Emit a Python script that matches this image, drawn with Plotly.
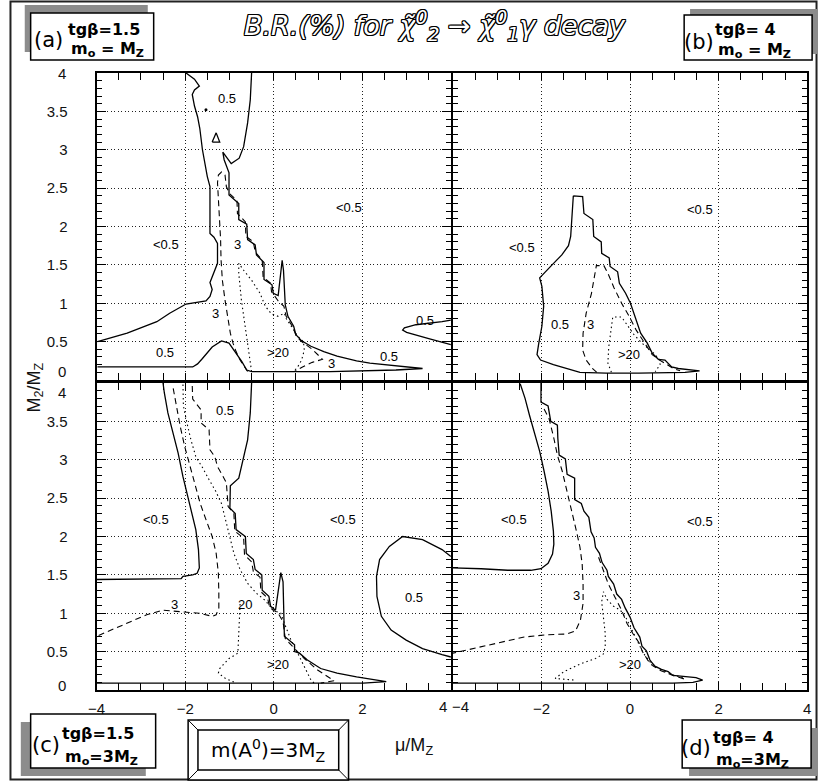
import plotly.graph_objects as go

# ---------------------------------------------------------------------------
# Contour lines of B.R.(%) in the (mu/M_Z, M_2/M_Z) plane.
# Levels: 0.5 % (solid), 3 % (dashed), 20 % (dotted)
# ---------------------------------------------------------------------------

# (a) tg(beta)=1.5, m0 = M_Z
a_br05_left_x = [-3.98, -3.31, -2.64, -2.35, -1.98, -1.53, -1.44, -1.39, -1.44, -1.35, -1.27, -1.27, -1.35,
                 -1.44, -1.44, -1.50, -1.61, -1.67, -1.72, -1.79, -1.84, -1.79, -1.68, -1.79, -1.98]
a_br05_left_y = [0.50, 0.61, 0.76, 0.87, 0.99, 1.03, 1.09, 1.18, 1.27, 1.39, 1.52, 1.78, 1.86,
                 1.91, 2.52, 2.65, 3.00, 3.28, 3.43, 3.57, 3.72, 3.78, 3.83, 3.92, 4.00]
a_br05_main_x = [-0.50, -0.53, -0.59, -0.68, -0.78, -0.96, -1.15, -1.12, -1.01, -1.01, -0.79, -0.79, -0.61,
                 -0.59, -0.42, -0.39, -0.22, -0.22, -0.04, -0.01, 0.10, 0.16, 0.19, 0.22, 0.24, 0.26, 0.32,
                 0.45, 0.50, 0.63, 0.84, 1.13, 1.43, 1.87, 2.17, 2.76, 3.36, 2.76, 1.28, -0.50, -0.61,
                 -0.72, -0.87, -1.01, -1.18, -1.39, -1.61, -1.72, -1.83, -3.98]
a_br05_main_y = [4.00, 3.65, 3.35, 3.04, 2.89, 2.82, 2.97, 2.87, 2.70, 2.41, 2.30, 2.09, 2.03,
                 1.83, 1.76, 1.63, 1.53, 1.31, 1.24, 1.13, 1.10, 1.39, 1.56, 1.43, 1.13, 0.98, 0.83,
                 0.70, 0.59, 0.51, 0.44, 0.37, 0.31, 0.25, 0.22, 0.19, 0.15, 0.13, 0.11, 0.11, 0.13,
                 0.24, 0.37, 0.48, 0.51, 0.43, 0.28, 0.21, 0.17, 0.17]
a_br05_tri_x = [-1.39, -1.30, -1.22, -1.39]
a_br05_tri_y = [3.10, 3.22, 3.10, 3.10]
a_br05_dot_x = [-1.53]
a_br05_dot_y = [3.52]
a_br05_right_x = [4.00, 3.80, 3.21, 2.95, 2.91, 3.00, 3.50, 3.80, 4.00]
a_br05_right_y = [0.78, 0.76, 0.72, 0.68, 0.65, 0.62, 0.54, 0.49, 0.46]
a_br3_x = [-0.59, -0.64, -0.76, -0.85, -0.92, -0.98, -1.03, -1.10, -1.16, -1.19, -1.20, -1.22, -1.25, -1.27,
           -1.25, -1.18, -1.10, -1.07, -1.00, -0.83, -0.82, -0.64, -0.63, -0.46, -0.42, -0.26, -0.24, -0.07,
           -0.05, 0.10, 0.23, 0.28, 0.43, 0.51, 0.63, 0.87, 1.10, 0.87, 0.65, 0.47]
a_br3_y = [0.11, 0.15, 0.26, 0.37, 0.48, 0.61, 0.78, 1.04, 1.30, 1.57, 1.83, 2.09, 2.35, 2.57,
           2.67, 2.71, 2.67, 2.52, 2.43, 2.34, 2.17, 2.06, 1.87, 1.80, 1.67, 1.56, 1.34, 1.26,
           1.15, 1.03, 0.96, 0.83, 0.69, 0.57, 0.50, 0.40, 0.27, 0.23, 0.17, 0.11]
a_br20_x = [-0.50, -0.57, -0.66, -0.73, -0.79, -0.79, -0.68, -0.50, -0.31, -0.19, -0.05, 0.10, 0.24, 0.28,
            0.43, 0.54, 0.67, 0.69, 0.63, 0.54, 0.45]
a_br20_y = [0.11, 0.39, 0.70, 1.04, 1.39, 1.52, 1.43, 1.30, 1.13, 0.96, 0.86, 0.83, 0.87, 0.80,
            0.67, 0.57, 0.50, 0.39, 0.26, 0.17, 0.11]
a_lbl_text = ["0.5", "<0.5", "<0.5", "3", "3", "0.5", ">20", "3", "0.5", "0.5"]
a_lbl_x = [-1.05, 1.71, -2.44, -0.81, -1.31, -2.46, 0.10, 1.30, 2.61, 3.41]
a_lbl_y = [3.67, 2.25, 1.76, 1.76, 0.86, 0.36, 0.36, 0.21, 0.30, 0.77]

# (b) tg(beta)=4, m0 = M_Z
b_br05_x = [-1.28, -1.07, -1.04, -0.84, -0.82, -0.65, -0.64, -0.47, -0.45, -0.28, -0.24, -0.10, 0.01, 0.13,
            0.24, 0.39, 0.50, 0.64, 0.79, 0.94, 1.09, 1.57, 1.24, 0.20, -0.54, -1.13, -1.73, -2.02, -2.10,
            -2.06, -1.99, -1.95, -1.99, -2.04, -1.93, -1.76, -1.54, -1.39, -1.34, -1.32, -1.30, -1.28]
b_br05_y = [2.40, 2.39, 2.17, 2.09, 1.87, 1.80, 1.65, 1.59, 1.48, 1.41, 1.26, 1.13, 1.00, 0.78,
            0.61, 0.48, 0.35, 0.27, 0.26, 0.17, 0.15, 0.12, 0.10, 0.09, 0.09, 0.10, 0.20, 0.26, 0.33,
            0.48, 0.70, 0.96, 1.22, 1.33, 1.40, 1.50, 1.63, 1.75, 1.87, 2.09, 2.26, 2.40]
b_br3_x = [-0.75, -0.85, -0.99, -1.07, -1.06, -0.99, -0.87, -0.80, -0.76, -0.59, -0.50, -0.36, -0.19, -0.02,
           0.14, 0.31, 0.50, 0.72, 0.98, 1.13]
b_br3_y = [0.10, 0.15, 0.26, 0.39, 0.61, 0.87, 1.13, 1.39, 1.49, 1.49, 1.39, 1.20, 1.00, 0.83,
           0.65, 0.50, 0.33, 0.24, 0.15, 0.12]
b_br20_x = [-0.42, -0.50, -0.48, -0.43, -0.39, -0.19, -0.06, 0.09, 0.27, 0.50, 0.66, 0.68, 0.57]
b_br20_y = [0.10, 0.22, 0.43, 0.65, 0.82, 0.82, 0.72, 0.59, 0.48, 0.37, 0.27, 0.20, 0.11]
b_lbl_text = ["<0.5", "<0.5", "0.5", "3", ">20"]
b_lbl_x = [1.57, -2.43, -1.58, -0.90, -0.02]
b_lbl_y = [2.22, 1.73, 0.72, 0.72, 0.33]

# (c) tg(beta)=1.5, m0 = 3 M_Z
c_br05_left_x = [-2.50, -2.47, -2.39, -2.27, -2.16, -2.05, -1.94, -1.84, -1.76, -1.70, -1.68, -1.73, -1.83,
                 -2.05, -2.09, -4.00]
c_br05_left_y = [4.00, 3.87, 3.61, 3.35, 3.09, 2.78, 2.52, 2.30, 2.09, 1.83, 1.59, 1.52, 1.50,
                 1.48, 1.45, 1.44]
c_br05_main_x = [-0.50, -0.53, -0.59, -0.70, -0.79, -0.98, -0.99, -0.87, -0.85, -0.64, -0.62, -0.46, -0.42,
                 -0.27, -0.26, -0.11, -0.07, 0.04, 0.10, 0.16, 0.21, 0.23, 0.24, 0.24, 0.47, 0.47, 0.58,
                 0.76, 1.06, 1.43, 1.87, 2.54, 2.02, -4.00]
c_br05_main_y = [4.00, 3.61, 3.26, 2.98, 2.76, 2.66, 2.37, 2.30, 2.09, 2.00, 1.78, 1.70, 1.57,
                 1.50, 1.30, 1.22, 1.09, 1.04, 1.26, 1.53, 1.41, 0.98, 0.91, 0.70, 0.59, 0.50, 0.48,
                 0.39, 0.28, 0.22, 0.17, 0.11, 0.09, 0.09]
c_br05_right_x = [4.00, 3.80, 3.36, 2.91, 2.61, 2.39, 2.32, 2.33, 2.43, 2.65, 2.99, 3.36, 3.80, 4.00]
c_br05_right_y = [1.74, 1.83, 1.96, 2.00, 1.87, 1.70, 1.48, 1.22, 0.96, 0.78, 0.65, 0.54, 0.46, 0.43]
c_br3_left_x = [-2.27, -2.20, -2.11, -2.01, -1.89, -1.77, -1.66, -1.53, -1.39, -1.30, -1.25, -1.24, -1.24,
                -1.30, -1.39, -1.68, -2.05, -2.50, -2.87, -3.31, -3.68, -4.00]
c_br3_left_y = [3.93, 3.70, 3.43, 3.17, 2.91, 2.65, 2.43, 2.22, 2.00, 1.78, 1.52, 1.26, 1.07,
                0.98, 0.96, 1.00, 1.02, 1.04, 0.98, 0.87, 0.77, 0.70]
c_br3_right_x = [-1.84, -1.83, -1.64, -1.64, -1.46, -1.44, -1.33, -1.27, -1.16, -1.07, -1.03, -0.90, -0.88,
                 -0.68, -0.66, -0.50, -0.46, -0.31, -0.29, -0.14, -0.09, 0.10, 0.21, 0.26, 0.47, 0.69,
                 0.99, 1.36, 1.06]
c_br3_right_y = [3.96, 3.79, 3.65, 3.48, 3.39, 3.13, 3.04, 2.91, 2.80, 2.70, 2.39, 2.30, 2.07,
                 1.98, 1.76, 1.67, 1.54, 1.47, 1.28, 1.20, 1.07, 1.00, 0.89, 0.67, 0.54, 0.41,
                 0.26, 0.12, 0.09]
c_br20_a_x = [-2.05, -2.04, -1.96, -1.87, -1.76, -1.61, -1.46, -1.31, -1.18, -1.09, -1.01, -0.90, -0.76,
              -0.59, -0.39, -0.20, -0.01, 0.16, 0.24, 0.39, 0.54, 0.69, 0.84, 0.91]
c_br20_a_y = [3.98, 3.70, 3.48, 3.26, 3.04, 2.90, 2.74, 2.59, 2.43, 2.22, 2.00, 1.78, 1.57,
              1.39, 1.26, 1.17, 1.04, 1.00, 0.87, 0.65, 0.48, 0.30, 0.13, 0.09]
c_br20_b_x = [-0.76, -0.79, -0.81, -1.01, -1.22, -1.25, -1.09, -0.85]
c_br20_b_y = [1.12, 0.83, 0.48, 0.41, 0.28, 0.22, 0.15, 0.09]
c_lbl_text = ["0.5", "<0.5", "<0.5", "0.5", "3", "20", ">20"]
c_lbl_x = [-1.09, -2.66, 1.56, 3.17, -2.24, -0.64, 0.10]
c_lbl_y = [3.64, 2.22, 2.22, 1.21, 1.12, 1.12, 0.33]

# (d) tg(beta)=4, m0 = 3 M_Z
d_br05_left_x = [-2.48, -2.37, -2.27, -2.16, -2.04, -1.94, -1.85, -1.78, -1.73, -1.72, -1.75, -1.85, -2.01,
                 -2.24, -2.76, -3.36, -4.00]
d_br05_left_y = [3.99, 3.80, 3.58, 3.37, 3.11, 2.85, 2.59, 2.33, 2.07, 1.90, 1.77, 1.65, 1.58,
                 1.56, 1.56, 1.58, 1.59]
d_br05_main_x = [-2.01, -2.01, -1.85, -1.79, -1.64, -1.63, -1.60, -1.46, -1.42, -1.25, -1.25, -1.10, -1.04,
                 -0.93, -0.88, -0.81, -0.78, -0.69, -0.63, -0.52, -0.49, -0.37, -0.30, -0.19, -0.11, 0.00,
                 0.09, 0.22, 0.27, 0.37, 0.45, 0.56, 0.71, 0.86, 0.97, 1.19, 1.49, 1.64, 1.42, 0.97, -4.00]
d_br05_main_y = [4.00, 3.75, 3.70, 3.50, 3.45, 3.28, 3.06, 3.01, 2.81, 2.76, 2.48, 2.43, 2.33,
                 2.25, 2.06, 1.98, 1.86, 1.78, 1.66, 1.56, 1.48, 1.38, 1.25, 1.18, 1.07, 0.95,
                 0.81, 0.69, 0.57, 0.51, 0.39, 0.31, 0.27, 0.24, 0.19, 0.18, 0.16, 0.13, 0.10, 0.09, 0.09]
d_br3_a_x = [-1.94, -1.83, -1.72, -1.64, -1.53, -1.42, -1.31, -1.21, -1.13, -1.08, -1.06, -1.06, -1.12,
             -1.23, -1.42, -1.87, -2.39, -2.99, -3.51, -4.00]
d_br3_a_y = [3.66, 3.54, 3.28, 3.06, 2.85, 2.59, 2.33, 2.07, 1.86, 1.64, 1.38, 1.13, 0.91,
             0.77, 0.73, 0.72, 0.69, 0.61, 0.54, 0.48]
d_br3_b_x = [-0.71, -0.60, -0.49, -0.34, -0.19, -0.07, 0.06, 0.21, 0.28, 0.40, 0.50, 0.70, 0.97, 1.30]
d_br3_b_y = [1.73, 1.56, 1.38, 1.21, 1.04, 0.87, 0.74, 0.61, 0.50, 0.39, 0.32, 0.25, 0.19, 0.13]
d_br20_x = [1.19, 0.97, 0.67, 0.46, 0.30, 0.16, 0.04, -0.09, -0.22, -0.37, -0.52, -0.60, -0.64, -0.60,
            -0.56, -0.56, -0.60, -0.78, -1.12, -1.49, -1.69, -1.27]
d_br20_y = [0.16, 0.20, 0.27, 0.36, 0.48, 0.64, 0.78, 0.94, 1.04, 1.09, 1.18, 1.28, 1.15, 0.95,
            0.74, 0.56, 0.47, 0.41, 0.34, 0.24, 0.15, 0.13]
d_lbl_text = ["<0.5", "<0.5", "3", ">20"]
d_lbl_x = [-2.63, 1.58, -1.21, 0.00]
d_lbl_y = [2.22, 2.20, 1.23, 0.33]

# axis ticks
x_tick_vals = [-4, -2, 0, 2, 4]
y_tick_vals = [0, 0.5, 1, 1.5, 2, 2.5, 3, 3.5, 4]

# ---------------------------------------------------------------------------
W, H = 822, 782


def px(v):
    return v / W


def py(v):
    return 1 - v / H


LINE_STYLE = {
    0.5: dict(color="black", width=1.3, dash="solid"),
    3: dict(color="black", width=1.1, dash="6px,4px"),
    20: dict(color="black", width=1.1, dash="1.5px,3px"),
}

fig = go.Figure()

panels = {
    "a": ("x", "y"),
    "b": ("x2", "y2"),
    "c": ("x3", "y3"),
    "d": ("x4", "y4"),
}

curves = [
    ("a", 0.5, a_br05_left_x, a_br05_left_y),
    ("a", 0.5, a_br05_main_x, a_br05_main_y),
    ("a", 0.5, a_br05_tri_x, a_br05_tri_y),
    ("a", 0.5, a_br05_right_x, a_br05_right_y),
    ("a", 3, a_br3_x, a_br3_y),
    ("a", 20, a_br20_x, a_br20_y),
    ("b", 0.5, b_br05_x, b_br05_y),
    ("b", 3, b_br3_x, b_br3_y),
    ("b", 20, b_br20_x, b_br20_y),
    ("c", 0.5, c_br05_left_x, c_br05_left_y),
    ("c", 0.5, c_br05_main_x, c_br05_main_y),
    ("c", 0.5, c_br05_right_x, c_br05_right_y),
    ("c", 3, c_br3_left_x, c_br3_left_y),
    ("c", 3, c_br3_right_x, c_br3_right_y),
    ("c", 20, c_br20_a_x, c_br20_a_y),
    ("c", 20, c_br20_b_x, c_br20_b_y),
    ("d", 0.5, d_br05_left_x, d_br05_left_y),
    ("d", 0.5, d_br05_main_x, d_br05_main_y),
    ("d", 3, d_br3_a_x, d_br3_a_y),
    ("d", 3, d_br3_b_x, d_br3_b_y),
    ("d", 20, d_br20_x, d_br20_y),
]

for panel, level, xs, ys in curves:
    xa, ya = panels[panel]
    fig.add_trace(go.Scatter(x=xs, y=ys, mode="lines", line=LINE_STYLE[level],
                             xaxis=xa, yaxis=ya, showlegend=False, hoverinfo="skip"))

fig.add_trace(go.Scatter(x=a_br05_dot_x, y=a_br05_dot_y, mode="markers",
                         marker=dict(color="black", size=3), xaxis="x", yaxis="y",
                         showlegend=False, hoverinfo="skip"))

annotations = []
LBL_FONT = dict(family="Liberation Sans, Arial, sans-serif", size=13, color="black")
for panel, texts, xs, ys in [("a", a_lbl_text, a_lbl_x, a_lbl_y),
                             ("b", b_lbl_text, b_lbl_x, b_lbl_y),
                             ("c", c_lbl_text, c_lbl_x, c_lbl_y),
                             ("d", d_lbl_text, d_lbl_x, d_lbl_y)]:
    xa, ya = panels[panel]
    for t, x, y in zip(texts, xs, ys):
        annotations.append(dict(text=t.replace("<", "&lt;").replace(">", "&gt;"), x=x, y=y,
                                xref=xa, yref=ya, showarrow=False, font=LBL_FONT,
                                xanchor="center", yanchor="middle"))

TICK_FONT = dict(family="Liberation Sans, Arial, sans-serif", size=15, color="#111")

x_dom_l = [px(89), px(449)]
x_dom_r = [px(451), px(811)]
y_dom_t = [py(380), py(73)]
y_dom_b = [py(690), py(383)]


def make_xaxis(domain, anchor, ticktext, show):
    return dict(domain=domain, anchor=anchor, range=[-4, 4], tickmode="array",
                tickvals=x_tick_vals, ticktext=ticktext, showticklabels=show,
                ticks="inside", ticklen=8, tickwidth=1, tickcolor="black",
                showline=True, linecolor="black", linewidth=2, mirror="allticks",
                showgrid=True, gridcolor="#222", gridwidth=1, griddash="1px,2.5px", zeroline=False,
                minor=dict(dtick=0.5, tick0=0, ticks="inside", ticklen=7, tickcolor="black",
                           showgrid=False),
                tickfont=TICK_FONT, ticklabelstandoff=4, fixedrange=True)


def make_yaxis(domain, anchor, show):
    return dict(domain=domain, anchor=anchor, range=[0, 4], tickmode="array",
                tickvals=y_tick_vals,
                ticktext=["", "0.5", "1", "1.5", "2", "2.5", "3", "3.5", ""],
                showticklabels=show,
                ticks="inside", ticklen=9, tickwidth=1, tickcolor="black",
                showline=True, linecolor="black", linewidth=2, mirror="allticks",
                showgrid=True, gridcolor="#222", gridwidth=1, griddash="1px,2.5px", zeroline=False,
                minor=dict(dtick=0.1, tick0=0, ticks="inside", ticklen=5, tickcolor="black",
                           showgrid=False),
                tickfont=TICK_FONT, ticklabelstandoff=24, fixedrange=True)


fig.update_layout(
    width=W, height=H, margin=dict(l=0, r=0, t=0, b=0),
    paper_bgcolor="white", plot_bgcolor="white",
    xaxis=make_xaxis(x_dom_l, "y", ["", "", "", "", ""], False),
    yaxis=make_yaxis(y_dom_t, "x", True),
    xaxis2=make_xaxis(x_dom_r, "y2", ["", "", "", "", ""], False),
    yaxis2=make_yaxis(y_dom_t, "x2", False),
    xaxis3=make_xaxis(x_dom_l, "y3", ["\u22124", "\u22122", "0", "2", ""], True),
    yaxis3=make_yaxis(y_dom_b, "x3", True),
    xaxis4=make_xaxis(x_dom_r, "y4", ["", "\u22122", "0", "2", "4"], True),
    yaxis4=make_yaxis(y_dom_b, "x4", False),
)

# edge tick labels placed clear of the neighbouring panel
edge_labels = [
    ("4", "y", 4, 0), ("0", "y", 0, 9), ("4", "y3", 4, -9), ("0", "y3", 0, 5),
]
for t, yref, yv, ys in edge_labels:
    annotations.append(dict(text=t, x=px(89 - 29), y=yv, xref="paper", yref=yref,
                            xanchor="right", yanchor="middle", yshift=ys, showarrow=False,
                            font=TICK_FONT))
annotations.append(dict(text="4", x=4, y=0, xref="x3", yref="y3", xanchor="center", yanchor="top",
                        xshift=-8, yshift=-6, showarrow=False, font=TICK_FONT))
annotations.append(dict(text="\u22124", x=-4, y=0, xref="x4", yref="y4", xanchor="center",
                        yanchor="top", xshift=8, yshift=-6, showarrow=False, font=TICK_FONT))

# axis titles
annotations.append(dict(text="M<sub>2</sub>/M<sub>Z</sub>", x=px(26), y=py(388), xref="paper",
                        yref="paper", textangle=-90, showarrow=False, xanchor="center",
                        yanchor="middle",
                        font=dict(family="Liberation Sans, Arial, sans-serif", size=18, color="#111")))
annotations.append(dict(text="\u03bc/M<sub>Z</sub>", x=px(411), y=py(746), xref="paper",
                        yref="paper", showarrow=False, xanchor="center", yanchor="middle",
                        font=dict(family="Liberation Sans, Arial, sans-serif", size=18, color="#111")))

# outlined italic title
outline = ", ".join(f"{dx}px {dy}px 0 #000" for dx, dy in
                    [(1, 0), (-1, 0), (0, 1), (0, -1), (1, 1), (-1, -1), (1, -1), (-1, 1)])
annotations.append(dict(
    text="B.R.(%) for \u03c7\u0303<sup>0</sup><sub>2</sub> \u2192 \u03c7\u0303<sup>0</sup><sub>1</sub>\u03b3 decay",
    x=px(433), y=py(25), xref="paper", yref="paper", showarrow=False,
    xanchor="center", yanchor="middle",
    font=dict(family="DejaVu Sans, sans-serif", size=27, color="white", style="italic",
              shadow=outline)))

# parameter boxes
shapes = []
BOX_FONT_BIG = dict(family="DejaVu Sans, sans-serif", size=21, color="black")
BOX_FONT = dict(family="DejaVu Sans, sans-serif", size=16, color="black", weight="bold")


def param_box(x0, y0, x1, y1, dx, dy, tag, line1, line2, tag_x, text_x, y1_txt, y2_txt):
    shapes.append(dict(type="rect", xref="paper", yref="paper",
                       x0=px(x0 + dx), x1=px(x1 + dx), y0=py(y0 + dy), y1=py(y1 + dy),
                       fillcolor="#8c8c8c", line=dict(width=0), layer="above"))
    shapes.append(dict(type="rect", xref="paper", yref="paper",
                       x0=px(x0), x1=px(x1), y0=py(y0), y1=py(y1),
                       fillcolor="white", line=dict(color="black", width=1.5), layer="above"))
    annotations.append(dict(text=tag, x=px(tag_x), y=py((y0 + y1) / 2 + 4), xref="paper", yref="paper",
                            xanchor="center", yanchor="middle", showarrow=False, font=BOX_FONT_BIG))
    annotations.append(dict(text=line1, x=px(text_x), y=py(y1_txt), xref="paper", yref="paper",
                            xanchor="left", yanchor="middle", showarrow=False, font=BOX_FONT))
    annotations.append(dict(text=line2, x=px(text_x + 3), y=py(y2_txt), xref="paper", yref="paper",
                            xanchor="left", yanchor="middle", showarrow=False, font=BOX_FONT))


param_box(22, 13, 147, 60, -6, -8, "(a)", "tg\u03b2=1.5", "m<sub>o</sub> = M<sub>Z</sub>", 40, 58, 29, 50)
param_box(686, 15, 816, 60, 6, -6, "(b)", "tg\u03b2= 4", "m<sub>o</sub> = M<sub>Z</sub>", 701, 715, 30, 51)
param_box(22, 714, 149, 768, -10, 8, "(c)", "tg\u03b2=1.5", "m<sub>o</sub>=3M<sub>Z</sub>", 38, 52, 733, 757)
param_box(684, 720, 815, 768, 7, 8, "(d)", "tg\u03b2= 4", "m<sub>o</sub>=3M<sub>Z</sub>", 698, 713, 737, 760)

# bevelled m(A0) frame
ox0, oy0, ox1, oy1 = 182, 720, 345, 780
ix0, iy0, ix1, iy1 = 192, 730, 335, 770
shapes.append(dict(type="rect", xref="paper", yref="paper", x0=px(ox0), x1=px(ox1), y0=py(oy0),
                   y1=py(oy1), fillcolor="white", line=dict(color="black", width=1.5), layer="above"))
shapes.append(dict(type="rect", xref="paper", yref="paper", x0=px(ix0), x1=px(ix1), y0=py(iy0),
                   y1=py(iy1), line=dict(color="black", width=1.5), layer="above"))
for (ax, ay), (bx, by) in [((ox0, oy0), (ix0, iy0)), ((ox1, oy0), (ix1, iy0)),
                           ((ox0, oy1), (ix0, iy1)), ((ox1, oy1), (ix1, iy1))]:
    shapes.append(dict(type="line", xref="paper", yref="paper", x0=px(ax), x1=px(bx), y0=py(ay),
                       y1=py(by), line=dict(color="black", width=1), layer="above"))
annotations.append(dict(text="m(A<sup>0</sup>)=3M<sub>Z</sub>", x=px(263), y=py(750), xref="paper",
                        yref="paper", showarrow=False, xanchor="center", yanchor="middle",
                        font=dict(family="DejaVu Sans, sans-serif", size=20, color="black")))

# outer frame of the figure
shapes.append(dict(type="rect", xref="paper", yref="paper", x0=px(1.5), x1=px(820.5), y0=py(1.5),
                   y1=py(779.5), line=dict(color="#222", width=2), layer="below"))

fig.update_layout(annotations=annotations, shapes=shapes)
fig.write_html("out.html")
